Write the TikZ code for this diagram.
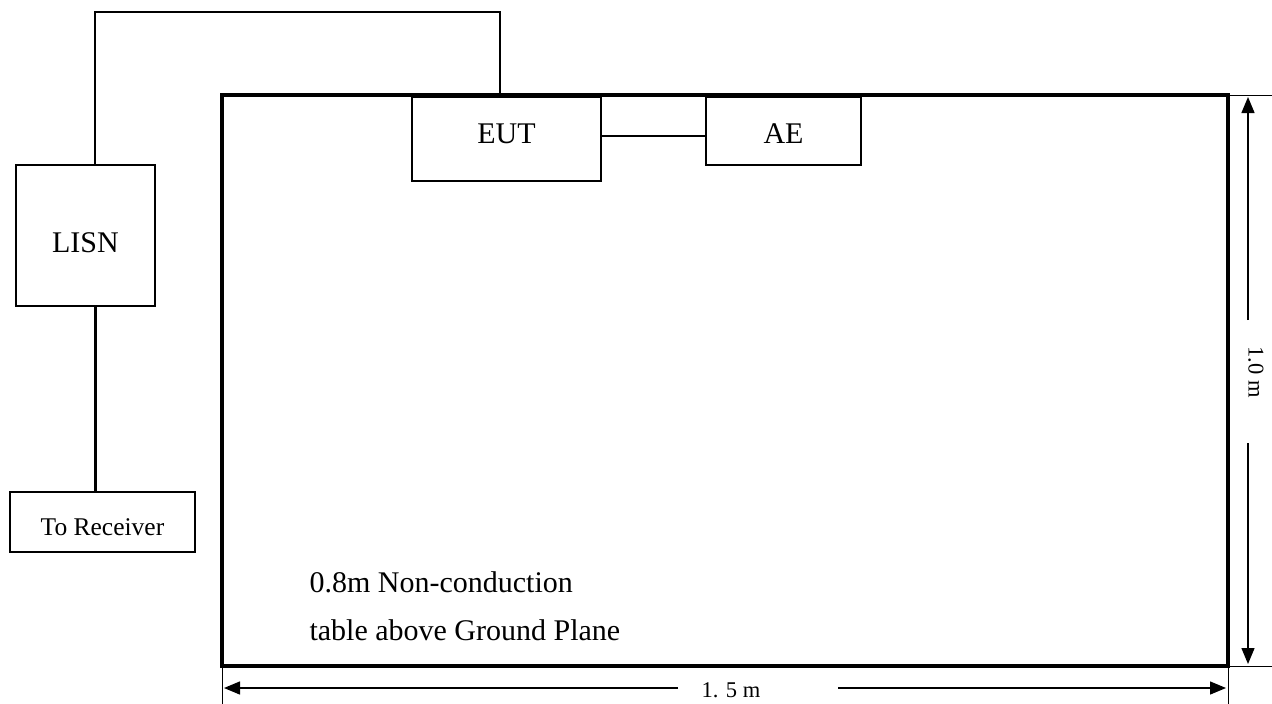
\documentclass[tikz,border=0pt]{standalone}
\usepackage{fontspec}
\setmainfont{Liberation Serif}
\usetikzlibrary{arrows.meta}
\begin{document}
\begin{tikzpicture}[x=1pt,y=-1pt,
  box/.style={draw,line width=2.2pt,inner sep=0pt,outer sep=0pt,anchor=north west},
  wire/.style={line width=1.6pt},
  dim/.style={line width=1.4pt,-{Triangle[length=16pt,width=13pt]}},
  ext/.style={line width=0.8pt},
  lbl/.style={font=\fontsize{30}{34}\selectfont},
  dimlbl/.style={font=\fontsize{22.5}{26}\selectfont,inner sep=0pt}]
\useasboundingbox (0,0) rectangle (1272,704);
% table
\node[draw,line width=4pt,minimum width=1006pt,minimum height=571pt,inner sep=0pt,outer sep=0pt,anchor=north west] (table) at (222,95) {};
% boxes
\node[box,minimum width=189pt,minimum height=84pt] (eut) at (412,97) {};
\node[lbl] at (eut.center) [yshift=5pt] {EUT};
\node[box,minimum width=155pt,minimum height=68pt] (ae) at (706,97) {};
\node[lbl] at (ae.center) [yshift=-3pt] {AE};
\node[box,minimum width=139pt,minimum height=141pt] (lisn) at (16,165) {};
\node[lbl] at (lisn.center) [yshift=-7pt] {LISN};
\node[box,minimum width=185pt,minimum height=60pt] (rx) at (10,492) {};
\node[font=\fontsize{25.5}{28}\selectfont] at (rx.center) [yshift=-5pt] {To Receiver};
% wires
\coordinate (eutw) at (500,97);
\draw[wire] (eutw) -- (500,12) -- (95,12) -- (lisn.north -| 95,0);
\draw[line width=3pt] (lisn.south -| 95,0) -- (rx.north -| 95,0);
\draw[wire] (eut.east |- 0,136) -- (ae.west |- 0,136);
% table text
\node[lbl,anchor=base west] (t1) at (306,592) {0.8m Non-conduction};
\node[lbl,anchor=base west] (t2) at (306,640) {table above Ground Plane};
% extension lines
\draw[ext] (1228,95) -- (1272,95);
\draw[ext] (1228,666) -- (1272,666);
\draw[ext] (1228,666) -- (1228,704);
\draw[ext] (222,666) -- (222,704);
% vertical dimension
\node[dimlbl,rotate=-90] (vd) at (1256,372) {1.0 m};
\coordinate (vt) at (1248,320);
\coordinate (vb) at (1248,443);
\draw[dim] (vt) -- (1248,97);
\draw[dim] (vb) -- (1248,664);
% horizontal dimension
\node[dimlbl] (hd) at (731,690) {1. 5 m};
\coordinate (hl) at (678,688);
\coordinate (hr) at (838,688);
\draw[dim] (hl) -- (224,688);
\draw[dim] (hr) -- (1226,688);
\end{tikzpicture}
\end{document}
